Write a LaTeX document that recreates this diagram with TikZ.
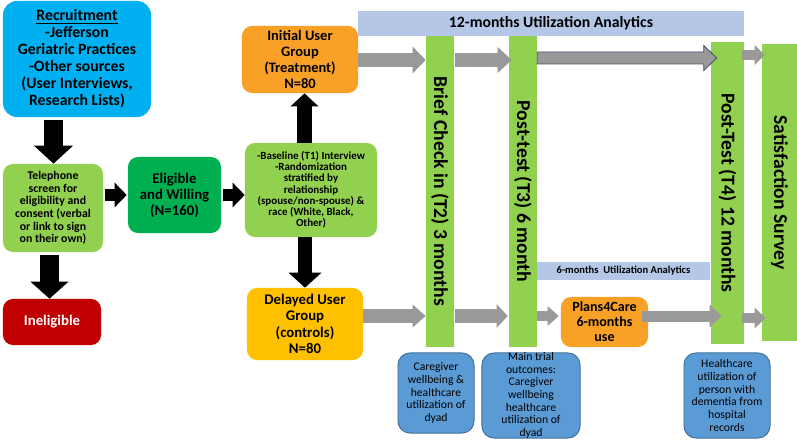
\documentclass[tikz,border=0pt]{standalone}
\usepackage{fontspec}
\setmainfont{Carlito}
\usetikzlibrary{arrows.meta,calc}

\definecolor{recblue}{HTML}{00B0F0}
\definecolor{lgreen}{HTML}{92D050}
\definecolor{dgreen}{HTML}{00B050}
\definecolor{ineligred}{HTML}{C00000}
\definecolor{userorange}{HTML}{F8A126}
\definecolor{usergold}{HTML}{FFC000}
\definecolor{bannerblue}{HTML}{B4C7E7}
\definecolor{arrowgray}{HTML}{999999}
\definecolor{arrowedge}{HTML}{44546A}
\definecolor{outblue}{HTML}{5B9BD5}
\definecolor{outedge}{HTML}{41719C}

\tikzset{
  box/.style={rounded corners=0.25cm, align=center, inner sep=0pt},
  bar/.style={fill=lgreen, inner sep=0pt},
  banner/.style={fill=bannerblue, inner sep=0pt},
  outcome/.style={fill=outblue, draw=outedge, line width=0.7pt, rounded corners=0.3cm,
    align=center, inner sep=0pt, font=\fontsize{8.3}{9}\selectfont},
  blkarrow/.style n args={3}{draw=black, line width=#1, -{Triangle[width=#2,length=#3]}},
  grayarrow/.style n args={3}{draw=arrowgray, line width=#1, -{Triangle[width=#2,length=#3]}},
}

\begin{document}
\begin{tikzpicture}[x=0.025cm, y=-0.025cm]
	\useasboundingbox (0,0) rectangle (797,440);

	% recruitment and screening
	\node[box, fill=recblue, rounded corners=0.35cm, minimum width=3.7cm, minimum height=2.9cm,
		font=\fontsize{11.2}{12.1}\selectfont\bfseries] (recruit) at (77,59)
		{\underline{Recruitment}\\-Jefferson\\Geriatric Practices\\-Other sources\\(User Interviews,\\Research Lists)};
	\node[box, fill=lgreen, minimum width=2.5cm, minimum height=2.2cm,
		font=\fontsize{8.4}{9}\selectfont\bfseries] (phone) at (53,208)
		{Telephone\\screen for\\eligibility and\\consent (verbal\\or link to sign\\on their own)};
	\node[box, fill=ineligred, text=white, minimum width=2.45cm, minimum height=1.15cm,
		font=\fontsize{10.5}{12}\selectfont\bfseries] (inelig) at (52,322) {Ineligible};
	\node[box, fill=dgreen, minimum width=2.325cm, minimum height=1.9cm,
		font=\fontsize{10.5}{11.4}\selectfont\bfseries] (elig) at (174.5,195) {Eligible\\and Willing\\(N=160)};
	\node[box, fill=lgreen, minimum width=3.3cm, minimum height=2.35cm,
		font=\fontsize{7.8}{8}\selectfont\bfseries] (base) at (311,190)
		{-Baseline (T1) Interview\\-Randomization\\stratified by\\relationship\\(spouse/non-spouse) \&\\race (White, Black,\\Other)};

	% groups
	\node[box, fill=userorange, minimum width=2.9cm, minimum height=1.675cm,
		font=\fontsize{10.3}{11.2}\selectfont\bfseries] (init) at (300,59.5) {Initial User\\Group\\(Treatment)\\N=80};
	\node[box, fill=usergold, minimum width=2.9cm, minimum height=1.8cm,
		font=\fontsize{10.5}{11.6}\selectfont\bfseries] (delay) at (305,324) {Delayed User\\Group\\(controls)\\N=80};

	% analytics banners
	\node[banner, minimum width=9.65cm, minimum height=0.625cm,
		font=\fontsize{11.2}{12}\selectfont\bfseries] (ua12) at (551,23.5) {12-months Utilization Analytics};
	\node[banner, minimum width=4.325cm, minimum height=0.45cm,
		font=\fontsize{7.5}{8}\selectfont\bfseries] (ua6) at (623.5,271) {6-months\ \ Utilization Analytics};

	% time points
	\node[bar, minimum width=0.7cm, minimum height=7.775cm,
		label={[rotate=-90, font=\fontsize{14}{16}\selectfont\bfseries]center:Brief Check in (T2) 3 months}] (t2) at (440,191.5) {};
	\node[bar, minimum width=0.7cm, minimum height=7.775cm,
		label={[rotate=-90, font=\fontsize{14}{16}\selectfont\bfseries]center:Post-test (T3) 6 month}] (t3) at (523,191.5) {};
	\node[bar, minimum width=0.825cm, minimum height=7.55cm,
		label={[rotate=-90, font=\fontsize{14}{16}\selectfont\bfseries]center:Post-Test (T4) 12 months}] (t4) at (727.5,193) {};
	\node[bar, minimum width=0.875cm, minimum height=7.425cm,
		label={[rotate=-90, font=\fontsize{14}{16}\selectfont\bfseries]center:Satisfaction Survey}] (sat) at (779.5,192.5) {};

	\node[box, fill=userorange, minimum width=2.175cm, minimum height=1.25cm,
		font=\fontsize{10}{10.6}\selectfont\bfseries] (plans) at (604.5,322) {Plans4Care\\6-months\\use};

	% outcomes
	\node[outcome, minimum width=1.9cm, minimum height=2cm] (out2) at (436,393)
		{Caregiver\\wellbeing \&\\healthcare\\utilization of\\dyad};
	\node[outcome, minimum width=2.45cm, minimum height=2.125cm, inner ysep=-1.5pt] (out3) at (531,395.5)
		{Main trial\\outcomes:\\Caregiver\\wellbeing\\healthcare\\utilization of\\dyad};
	\node[outcome, minimum width=2.15cm, minimum height=2.125cm] (out4) at (727,395.5)
		{Healthcare\\utilization of\\person with\\dementia from\\hospital\\records};

	% black arrows
	\coordinate (upx) at (304.5,0);
	\draw[blkarrow={0.475cm}{0.95cm}{0.45cm}] ($(recruit.south -| phone.north)+(0.5,3)$) -- ($(phone.north)+(0.5,0)$);
	\draw[blkarrow={0.475cm}{0.925cm}{0.425cm}] ($(phone.south -| inelig.north)+(-2.5,3)$) -- ($(inelig.north)+(-2.5,0)$);
	\draw[blkarrow={0.3cm}{0.6cm}{0.3cm}] ($(phone.east |- elig.west)+(2,0)$) -- ($(elig.west)+(-1,0)$);
	\draw[blkarrow={0.3cm}{0.6cm}{0.3cm}] ($(elig.east)+(2,0)$) -- (elig.east -| base.west);
	\draw[blkarrow={0.375cm}{0.675cm}{0.325cm}] (base.north -| upx) -- (init.south -| upx);
	\draw[blkarrow={0.35cm}{0.8cm}{0.375cm}] (base.south -| delay.north) -- (delay.north);

	% gray arrows
	\coordinate (toprow) at (0,60);
	\coordinate (midrow) at (0,58);
	\coordinate (satrow) at (0,55);
	\coordinate (lowrow) at (0,316);
	\draw[grayarrow={0.325cm}{0.65cm}{0.325cm}] (init.east |- toprow) -- (t2.west |- toprow);
	\draw[grayarrow={0.325cm}{0.625cm}{0.35cm}] ($(t2.east |- toprow)+(1,0)$) -- ($(t3.west |- toprow)+(3,0)$);
	\filldraw[fill=arrowgray, draw=arrowedge, line width=0.6pt]
		($(t3.east |- midrow)+(0,-6)$) -- ($(t4.west |- midrow)+(-7,-6)$)
		-- ($(t4.west |- midrow)+(-7,-12.5)$) -- ($(t4.west |- midrow)+(6,0)$)
		-- ($(t4.west |- midrow)+(-7,12.5)$) -- ($(t4.west |- midrow)+(-7,6)$)
		-- ($(t3.east |- midrow)+(0,6)$) -- cycle;
	\draw[grayarrow={0.25cm}{0.475cm}{0.25cm}] ($(t4.east |- satrow)+(-2,0)$) -- ($(sat.west |- satrow)+(3,0)$);

	\draw[grayarrow={0.35cm}{0.55cm}{0.325cm}] (delay.east |- lowrow) -- (t2.west |- lowrow);
	\draw[grayarrow={0.325cm}{0.575cm}{0.275cm}] ($(t2.east |- lowrow)+(1,0)$) -- ($(t3.west |- lowrow)+(-1,0)$);
	\draw[grayarrow={0.25cm}{0.475cm}{0.275cm}] (t3.east |- lowrow) -- ($(plans.west |- lowrow)+(-2,0)$);
	\draw[grayarrow={0.275cm}{0.55cm}{0.3cm}] ($(plans.east |- lowrow)+(-6,0)$) -- ($(t4.west |- lowrow)+(11,0)$);
	\draw[grayarrow={0.25cm}{0.5cm}{0.275cm}] ($(t4.east |- lowrow)+(-2,2)$) -- ($(sat.west |- lowrow)+(4,2)$);
\end{tikzpicture}
\end{document}
